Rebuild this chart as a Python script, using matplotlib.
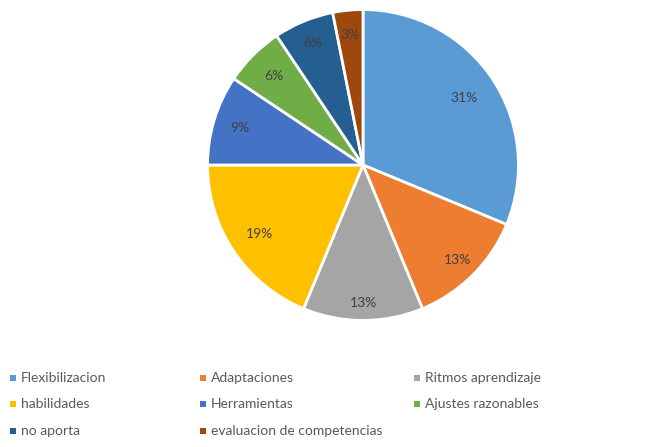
import matplotlib
matplotlib.use("Agg")
import matplotlib.pyplot as plt
from matplotlib.patches import Rectangle
import numpy as np

# response counts per category
categories = ["Flexibilizacion", "Adaptaciones", "Ritmos aprendizaje",
              "habilidades", "Herramientas", "Ajustes razonables",
              "no aporta", "evaluacion de competencias"]
counts = [10, 4, 4, 6, 3, 2, 2, 1]
colors = ["#5B9BD5", "#ED7D31", "#A5A5A5", "#FFC000",
          "#4472C4", "#70AD47", "#255E91", "#9E480E"]
# how far out each percentage label sits (fraction of radius)
label_dist = [0.78, 0.86, 0.89, 0.80, 0.83, 0.81, 0.85, 0.84]

plt.rcParams["font.family"] = ["Lato", "DejaVu Sans"]

W, H = 654, 447
fig = plt.figure(figsize=(W / 100, H / 100), dpi=100)
fig.patch.set_facecolor("white")

cx, cy, r = 363, 165, 157
ax = fig.add_axes([(cx - r) / W, (H - cy - r) / H, 2 * r / W, 2 * r / H])

wedges, _ = ax.pie(counts, colors=colors, startangle=90, counterclock=False,
                   wedgeprops=dict(edgecolor="white", linewidth=2))
ax.set_xlim(-1.01, 1.01)
ax.set_ylim(-1.01, 1.01)
ax.set_aspect("equal")

total = sum(counts)
for w, n, d in zip(wedges, counts, label_dist):
    mid = np.deg2rad((w.theta1 + w.theta2) / 2)
    pct = int(100 * n / total + 0.5)
    ax.text(d * np.cos(mid), d * np.sin(mid), f"{pct}%", ha="center",
            va="center", fontsize=10, color="#404040")

# legend laid out in rows of three, like the spreadsheet default
col_x = [13, 203, 417]
row_y = [378, 404, 431]
for i, (name, c) in enumerate(zip(categories, colors)):
    x = col_x[i % 3]
    y = row_y[i // 3]
    fig.patches.append(Rectangle(((x - 3) / W, (H - y - 3) / H), 6 / W, 6 / H,
                                 transform=fig.transFigure, facecolor=c,
                                 edgecolor="none"))
    fig.text((x + 8) / W, (H - y) / H, name, ha="left", va="center",
             fontsize=10, color="#595959")

fig.savefig("out.png", dpi=100)
